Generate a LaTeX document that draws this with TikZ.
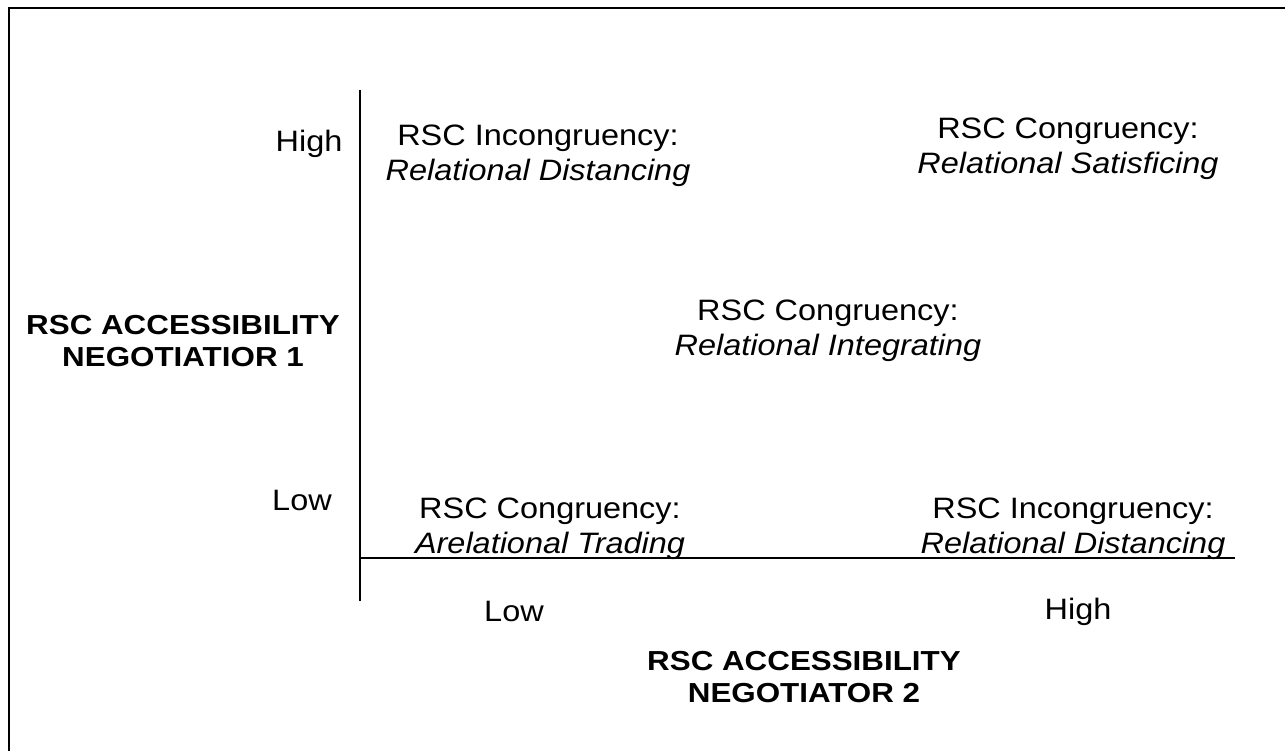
\documentclass[tikz,border=0pt]{standalone}
\usepackage{fontspec}
\setmainfont{Liberation Sans}[FakeStretch=1.1]
\newfontfamily\titlefont{Liberation Sans}[FakeStretch=1.14]
\begin{document}
\begin{tikzpicture}[x=1pt,y=-1pt,
    every node/.style={align=center,inner sep=0pt,font=\fontsize{29.5}{35}\selectfont},
    axistitle/.style={font=\titlefont\bfseries\fontsize{27.5}{32}\selectfont}]
      \useasboundingbox (0,0) rectangle (1285,750);
      \clip (0,0) rectangle (1285,750);
      \draw[line width=2pt] (9,8) rectangle (1300,770);
      \draw
        (538,156) node (tl){RSC Incongruency:\\\textit{Relational Distancing}}
        (1068,149) node (tr){RSC Congruency:\\\textit{Relational Satisficing}}
        (828,331) node (mid){RSC Congruency:\\\textit{Relational Integrating}}
        (550,529) node (bl){RSC Congruency:\\\textit{Arelational Trading}}
        (1073,529) node (br){RSC Incongruency:\\\textit{Relational Distancing}}
        (309,144) node (yhigh){High}
        (302,500) node (ylow){Low}
        (183,341) node[axistitle] (ytitle){RSC ACCESSIBILITY\\NEGOTIATIOR 1}
        (514,611) node (xlow){Low}
        (1078,612) node (xhigh){High}
        (804,677) node[axistitle] (xtitle){RSC ACCESSIBILITY\\NEGOTIATOR 2};
      \coordinate (ytop) at (360,90);
      \coordinate (ybot) at (360,601);
      \coordinate (xleft) at (360,558);
      \coordinate (xright) at (1235,558);
      \begin{scope}[line width=1.6pt]
        \draw (ytop) to (ybot);
        \draw (xleft) to (xright);
      \end{scope}
    \end{tikzpicture}
\end{document}
